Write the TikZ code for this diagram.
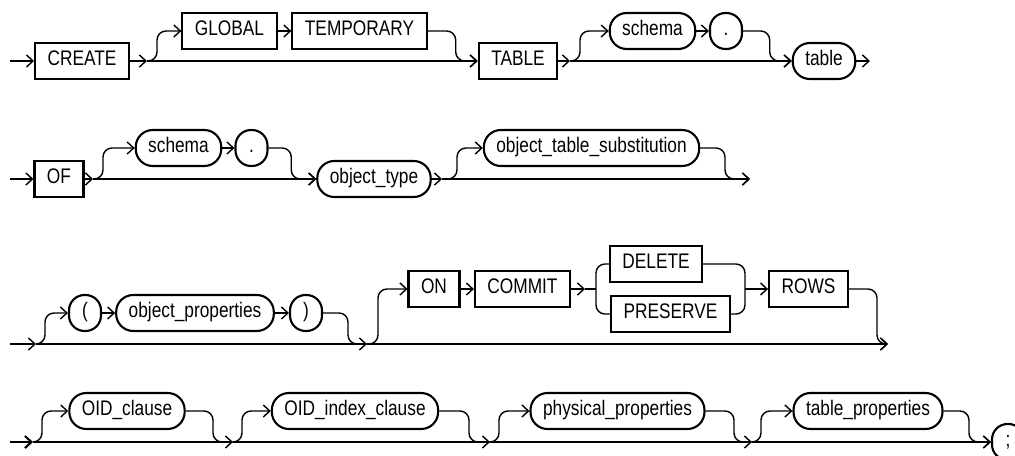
\documentclass[tikz,border=0pt]{standalone}
\usepackage{fontspec}
\setmainfont{Liberation Sans}[FakeStretch=0.82]
\usetikzlibrary{arrows.meta}

\begin{document}
\begin{tikzpicture}[x=0.02cm, y=-0.02cm,
    >={Straight Barb[length=1.3mm, width=2.4mm]},
    every node/.style={font=\fontsize{12}{14}\selectfont, text height=1.5ex, text depth=0.45ex},
    kwbox/.style={draw, line width=1.2pt, minimum height=0.72cm, inner xsep=0.25cm},
    ntbox/.style={draw, line width=1.2pt, minimum height=0.72cm, inner xsep=0.25cm, rounded corners=0.34cm},
    symbox/.style={draw, line width=1.2pt, minimum height=0.72cm, minimum width=0.64cm, inner xsep=0pt, rounded corners=0.31cm},
    rail/.style={line width=0.8pt, rounded corners=0.18cm}]
    \useasboundingbox (0,0) rectangle (1015,456);

    % CREATE [GLOBAL TEMPORARY] TABLE [schema .] table
    \coordinate (startA) at (10,61);
    \node[kwbox] (create) at (82,61) {CREATE};
    \coordinate (jA1) at (147,61);
    \node[kwbox] (global) at (229.5,31) {GLOBAL};
    \node[kwbox] (temporary) at (359.5,31) {TEMPORARY};
    \node[kwbox] (tablekw) at (518,61) {TABLE};
    \coordinate (jA2) at (570,61);
    \node[ntbox] (schemaA) at (652.5,31) {schema};
    \node[symbox] (dotA) at (726,31) {.};
    \node[ntbox] (tableA) at (824,61) {table};
    \coordinate (endA) at (870,61);

    \draw[rail,->] (startA) -- (create);
    \draw[rail,->] (create) -- (jA1);
    \draw[rail,->] (jA1) -- ([xshift=0.2cm]jA1) |- (global.west);
    \draw[rail,->] (global) -- (temporary);
    \draw[rail,->] (temporary.east) -| ([xshift=-0.44cm]tablekw.west) -- (tablekw.west);
    \draw[rail,->] (jA1) -- (tablekw);
    \draw[rail,->] (tablekw) -- (jA2);
    \draw[rail,->] (jA2) -- ([xshift=0.2cm]jA2) |- (schemaA.west);
    \draw[rail,->] (schemaA) -- (dotA);
    \draw[rail,->] (dotA.east) -| ([xshift=-0.44cm]tableA.west) -- (tableA.west);
    \draw[rail,->] (jA2) -- (tableA);
    \draw[rail,->] (tableA) -- (endA);

    % OF [schema .] object_type [object_table_substitution]
    \coordinate (startB) at (10,179);
    \node[kwbox] (of) at (59,179) {OF};
    \coordinate (jB1) at (93,179);
    \node[ntbox] (schemaB) at (178.5,148) {schema};
    \node[symbox] (dotB) at (251.5,148) {.};
    \node[ntbox] (objtype) at (374,179) {object\_type};
    \coordinate (jB2) at (442,179);
    \node[ntbox] (objsubst) at (591.5,148) {object\_table\_substitution};
    \coordinate (endB) at (750,179);

    \draw[rail,->] (startB) -- (of);
    \draw[rail,->] (of) -- (jB1);
    \draw[rail,->] (jB1) -- ([xshift=0.2cm]jB1) |- (schemaB.west);
    \draw[rail,->] (schemaB) -- (dotB);
    \draw[rail,->] (dotB.east) -| ([xshift=-0.5cm]objtype.west) -- (objtype.west);
    \draw[rail,->] (jB1) -- (objtype);
    \draw[rail,->] (objtype) -- (jB2);
    \draw[rail,->] (jB2) -- ([xshift=0.3cm]jB2) |- (objsubst.west);
    \draw[rail,->] (objsubst.east) -| ([xshift=-0.5cm]endB) -- (endB);
    \draw[rail,->] (jB2) -- (endB);

    % [( object_properties )] [ON COMMIT DELETE|PRESERVE ROWS]
    \coordinate (startC) at (10,344);
    \coordinate (jC1) at (36,344);
    \node[symbox] (lparen) at (85,313) {(};
    \node[ntbox] (objprops) at (195,313) {object\_properties};
    \node[symbox] (rparen) at (306,313) {)};
    \coordinate (jC2) at (367,344);
    \node[kwbox] (on) at (434,289) {ON};
    \node[kwbox] (commit) at (522.5,289) {COMMIT};
    \coordinate (splitC) at (585,289);
    \node[kwbox] (delete) at (656,264) {DELETE};
    \node[kwbox] (preserve) at (670.5,314) {PRESERVE};
    \coordinate (joinC) at (745,289);
    \node[kwbox] (rows) at (808.5,289) {ROWS};
    \coordinate (endC) at (888,344);

    \draw[rail,->] (startC) -- (jC1);
    \draw[rail,->] (jC1) -- ([xshift=0.18cm]jC1) |- (lparen.west);
    \draw[rail,->] (lparen) -- (objprops);
    \draw[rail,->] (objprops) -- (rparen);
    \draw[rail] (rparen.east) -| ([xshift=-0.38cm]jC2) -- (jC2);
    \draw[rail,->] (jC1) -- (jC2);
    \draw[rail,->] (jC2) -- ([xshift=0.22cm]jC2) |- (on.west);
    \draw[rail,->] (on) -- (commit);
    \draw[rail,->] (commit) -- (splitC);
    \draw[rail] (splitC) -- ([xshift=0.22cm]splitC);
    \draw[rail] (delete.west) -| ([xshift=0.22cm]splitC) |- (preserve.west);
    \draw[rail] (delete.east) -| (joinC) |- (preserve.east);
    \draw[rail,->] (joinC) -- (rows);
    \draw[rail,->] (rows.east) -| ([xshift=-0.22cm]endC) -- (endC);
    \draw[rail,->] (jC2) -- (endC);

    % [OID_clause] [OID_index_clause] [physical_properties] [table_properties] ;
    \coordinate (startD) at (10,442);
    \coordinate (jD1) at (33,442);
    \node[ntbox] (oidcl) at (127,411) {OID\_clause};
    \coordinate (jD2) at (233,442);
    \node[ntbox] (oidix) at (355,411) {OID\_index\_clause};
    \coordinate (jD3) at (490,442);
    \node[ntbox] (physprops) at (617.5,411) {physical\_properties};
    \coordinate (jD4) at (752,442);
    \node[ntbox] (tabprops) at (868,411) {table\_properties};
    \node[symbox] (semi) at (1008,442) {;};

    \draw[rail,->,line width=1.2pt] (startD) -- (jD1);
    \draw[rail,->] (jD1) -- ([xshift=0.18cm]jD1) |- (oidcl.west);
    \draw[rail] (oidcl.east) -| ([xshift=-0.4cm]jD2) -- (jD2);
    \draw[rail,->] (jD1) -- (jD2);
    \draw[rail,->] (jD2) -- ([xshift=0.18cm]jD2) |- (oidix.west);
    \draw[rail] (oidix.east) -| ([xshift=-0.42cm]jD3) -- (jD3);
    \draw[rail,->] (jD2) -- (jD3);
    \draw[rail,->] (jD3) -- ([xshift=0.18cm]jD3) |- (physprops.west);
    \draw[rail] (physprops.east) -| ([xshift=-0.36cm]jD4) -- (jD4);
    \draw[rail,->] (jD3) -- (jD4);
    \draw[rail,->] (jD4) -- ([xshift=0.18cm]jD4) |- (tabprops.west);
    \draw[rail,->] (tabprops.east) -| ([xshift=-0.44cm]semi.west) -- (semi.west);
    \draw[rail,->] (jD4) -- (semi);
\end{tikzpicture}
\end{document}
